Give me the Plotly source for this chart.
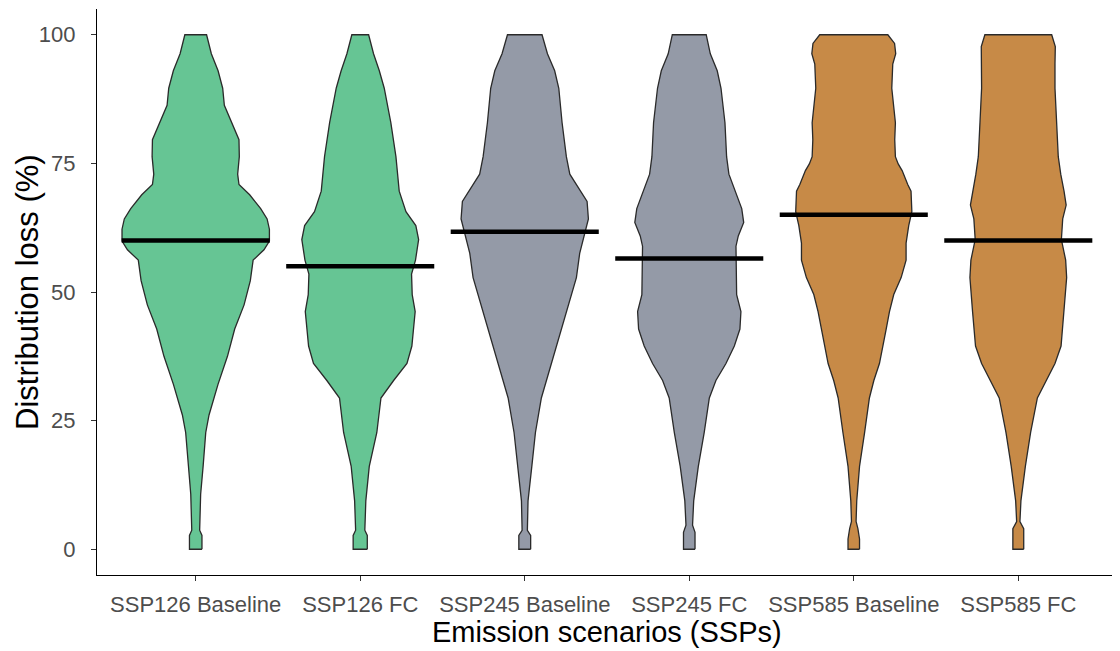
import plotly.graph_objects as go

categories = ["SSP126 Baseline", "SSP126 FC", "SSP245 Baseline", "SSP245 FC", "SSP585 Baseline", "SSP585 FC"]
medians = [60.0, 55.0, 61.7, 56.5, 65.0, 60.0]
fill_colors = ["#66C594", "#66C594", "#949AA7", "#949AA7", "#C78A47", "#C78A47"]
y_ticks = [0, 25, 50, 75, 100]
x_title = "Emission scenarios (SSPs)"
y_title = "Distribution loss (%)"

# violin outlines: loss level (%) and half-width of the density (in category units)
ssp126_base_y = [0, 2.7, 3.7, 10.7, 16.1, 22.7, 26.1, 32.1, 37.5, 42.8, 47.5, 52.2, 56.2, 58.2, 59.9, 62.2, 64.2, 66.2, 68.9, 70.9, 72.9, 76.3, 79.6, 82.9, 86.3, 89.6, 93.0, 96.3, 100]
ssp126_base_w = [0.038, 0.038, 0.024, 0.030, 0.045, 0.061, 0.081, 0.136, 0.193, 0.237, 0.294, 0.332, 0.349, 0.415, 0.448, 0.448, 0.434, 0.395, 0.328, 0.263, 0.255, 0.265, 0.263, 0.217, 0.174, 0.164, 0.136, 0.095, 0.066]

ssp126_fc_y = [0, 2.7, 3.7, 9.4, 16.1, 22.7, 29.4, 32.8, 36.1, 39.5, 46.2, 49.5, 53.5, 56.2, 60.2, 62.9, 65.6, 69.6, 76.3, 82.9, 89.6, 93.0, 96.3, 100]
ssp126_fc_w = [0.043, 0.043, 0.028, 0.034, 0.055, 0.101, 0.126, 0.203, 0.284, 0.314, 0.334, 0.316, 0.312, 0.336, 0.355, 0.338, 0.278, 0.237, 0.217, 0.186, 0.146, 0.116, 0.081, 0.051]

ssp245_base_y = [0, 2.7, 3.7, 9.4, 16.1, 22.7, 29.4, 36.1, 42.8, 49.5, 52.8, 57.5, 61.5, 64.2, 67.6, 70.2, 72.9, 76.3, 82.9, 89.6, 93.0, 96.3, 100]
ssp245_base_w = [0.036, 0.036, 0.016, 0.020, 0.043, 0.065, 0.101, 0.162, 0.223, 0.284, 0.314, 0.334, 0.365, 0.387, 0.379, 0.328, 0.274, 0.253, 0.227, 0.207, 0.182, 0.138, 0.105]

ssp245_fc_y = [0, 3.3, 4.7, 9.4, 16.1, 22.7, 29.4, 32.8, 36.1, 39.5, 42.8, 46.2, 49.5, 56.2, 58.9, 60.9, 63.5, 66.2, 69.6, 72.9, 76.3, 82.9, 89.6, 93.0, 96.3, 100]
ssp245_fc_w = [0.035, 0.035, 0.020, 0.027, 0.055, 0.091, 0.122, 0.162, 0.223, 0.274, 0.308, 0.314, 0.288, 0.286, 0.284, 0.298, 0.331, 0.319, 0.278, 0.241, 0.227, 0.217, 0.193, 0.170, 0.128, 0.103]

ssp585_base_y = [0, 2.0, 4.0, 5.4, 9.4, 16.1, 22.7, 29.4, 32.8, 36.1, 42.8, 46.2, 49.5, 52.8, 56.2, 59.5, 62.9, 65.6, 69.6, 70.9, 73.6, 74.9, 76.3, 79.6, 82.9, 86.3, 89.6, 94.3, 96.3, 98.3, 100]
ssp585_base_w = [0.035, 0.035, 0.025, 0.014, 0.018, 0.035, 0.066, 0.095, 0.122, 0.156, 0.197, 0.217, 0.243, 0.288, 0.318, 0.318, 0.334, 0.353, 0.348, 0.328, 0.294, 0.270, 0.253, 0.249, 0.253, 0.243, 0.231, 0.237, 0.255, 0.248, 0.207]

ssp585_fc_y = [0, 2.0, 4.0, 5.4, 9.4, 16.1, 22.7, 29.4, 32.8, 36.1, 39.5, 46.2, 52.8, 56.2, 60.2, 64.2, 66.9, 69.6, 72.9, 76.3, 82.9, 89.6, 94.3, 97.7, 100]
ssp585_fc_w = [0.033, 0.033, 0.033, 0.010, 0.016, 0.043, 0.075, 0.116, 0.172, 0.223, 0.260, 0.278, 0.294, 0.288, 0.262, 0.270, 0.291, 0.278, 0.258, 0.243, 0.233, 0.223, 0.223, 0.225, 0.203]

profiles = [
    (ssp126_base_y, ssp126_base_w),
    (ssp126_fc_y, ssp126_fc_w),
    (ssp245_base_y, ssp245_base_w),
    (ssp245_fc_y, ssp245_fc_w),
    (ssp585_base_y, ssp585_base_w),
    (ssp585_fc_y, ssp585_fc_w),
]

FONT = "Liberation Sans, Arial, sans-serif"
# the page body adds an 8px offset; figure is sized to compensate
W, H = 1112, 643
ML, MR, MT, MB = 89, 3, 1, 76
fig = go.Figure()

for i, (ys, ws) in enumerate(profiles):
    c = i + 1
    xs = [c + w for w in ws] + [c - w for w in reversed(ws)]
    yy = list(ys) + list(reversed(ys))
    xs.append(xs[0])
    yy.append(yy[0])
    fig.add_trace(go.Scatter(
        x=xs, y=yy, mode="lines", fill="toself",
        fillcolor=fill_colors[i],
        line=dict(color="#2A2A2A", width=1.3),
        hoverinfo="skip", showlegend=False,
    ))

for i, m in enumerate(medians):
    c = i + 1
    fig.add_trace(go.Scatter(
        x=[c - 0.45, c + 0.45], y=[m, m], mode="lines",
        line=dict(color="black", width=4.5),
        showlegend=False, hoverinfo="skip",
    ))

plot_w = W - ML - MR
plot_h = H - MT - MB
fig.update_layout(
    width=W, height=H,
    margin=dict(l=ML, r=MR, t=MT, b=MB, autoexpand=False),
    paper_bgcolor="white", plot_bgcolor="white",
    font=dict(family=FONT),
    showlegend=False,
    annotations=[
        dict(text=x_title, xref="paper", yref="paper",
             x=0.5, y=-(624 - (H - MB)) / plot_h,
             xanchor="center", yanchor="middle", showarrow=False,
             font=dict(size=29, color="black", family=FONT)),
        dict(text=y_title, xref="paper", yref="paper",
             x=(19 - ML) / plot_w, y=0.5, textangle=-90,
             xanchor="center", yanchor="middle", showarrow=False,
             font=dict(size=31, color="black", family=FONT)),
    ],
)
fig.update_xaxes(
    range=[0.4, 6.6], automargin=False,
    tickmode="array", tickvals=list(range(1, 7)), ticktext=categories,
    showline=True, linecolor="black", linewidth=1.3,
    ticks="outside", ticklen=5, tickcolor="#333333", tickwidth=1.2,
    ticklabelstandoff=4,
    tickfont=dict(size=22, color="#4D4D4D", family=FONT),
    showgrid=False, zeroline=False,
)
fig.update_yaxes(
    range=[-5, 105], automargin=False,
    tickmode="array", tickvals=y_ticks,
    showline=True, linecolor="black", linewidth=1.3,
    ticks="outside", ticklen=5, tickcolor="#333333", tickwidth=1.2,
    ticklabelstandoff=11,
    tickfont=dict(size=22, color="#4D4D4D", family=FONT),
    showgrid=False, zeroline=False,
)

fig.write_html("out.html")
